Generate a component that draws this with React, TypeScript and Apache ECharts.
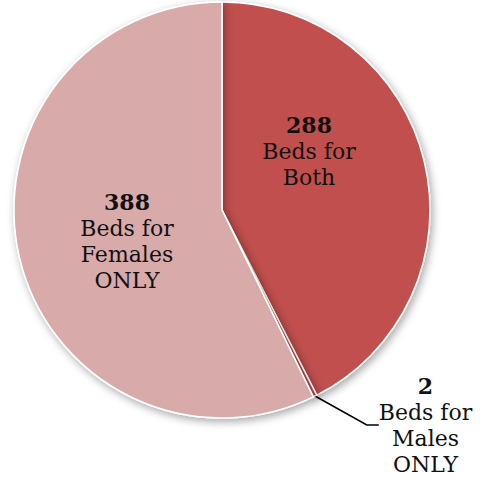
import React, { useEffect, useRef } from "react";
import * as echarts from "echarts";

const categories = ["Both", "Males ONLY", "Females ONLY"];
const values = [288, 2, 388];
const labelTexts = ["Beds for\nBoth", "Beds for\nMales\nONLY", "Beds for\nFemales\nONLY"];
const colors = ["#C0504D", "#B84A47", "#D9AAAA"];
const labelPos = [
  [309, 151],
  [424, 412],
  [127, 241],
];

export default function App() {
  const ref = useRef<HTMLDivElement>(null);
  useEffect(() => {
    if (!ref.current) return;
    const chart = echarts.init(ref.current, null, { renderer: "svg" });
    const font = "'DejaVu Serif', serif";
    chart.setOption({
      animation: false,
      backgroundColor: "#ffffff",
      series: [
        {
          type: "pie",
          center: [222, 210],
          radius: [0, 208],
          startAngle: 90,
          clockwise: true,
          avoidLabelOverlap: false,
          itemStyle: {
            borderColor: "#ffffff",
            borderWidth: 1.5,
            shadowBlur: 8,
            shadowColor: "rgba(0,0,0,0.35)",
            shadowOffsetX: 2,
            shadowOffsetY: 3,
          },
          data: categories.map((c, i) => ({
            name: c,
            value: values[i],
            itemStyle: { color: colors[i] },
            label: {
              show: true,
              position: i === 1 ? "outside" : "inside",
              padding: i === 1 ? [26, 0, 0, 3] : 0,
              formatter: "{n|" + values[i] + "}\n{t|" + labelTexts[i] + "}",
            },
            labelLine: {
              show: i === 1,
              length: 20,
              length2: 12,
              lineStyle: { color: "#000000", width: 1.6 },
            },
          })),
          label: {
            color: "#111111",
            fontFamily: font,
            align: "center",
            verticalAlign: "middle",
            rich: {
              n: { fontFamily: font, fontSize: 22, fontWeight: "bold", lineHeight: 26, color: "#111111", align: "center" },
              t: { fontFamily: font, fontSize: 22, lineHeight: 26, color: "#111111", align: "center" },
            },
          },
          labelLayout: (params: any) => {
            const p = labelPos[params.dataIndex];
            return { x: p[0], y: p[1], align: "center", verticalAlign: "middle" };
          },
          emphasis: { disabled: true },
        },
      ],
    });
    return () => chart.dispose();
  }, []);
  return (
    <div
      ref={ref}
      style={{ position: "fixed", left: 0, top: 0, width: 480, height: 479 }}
    />
  );
}
